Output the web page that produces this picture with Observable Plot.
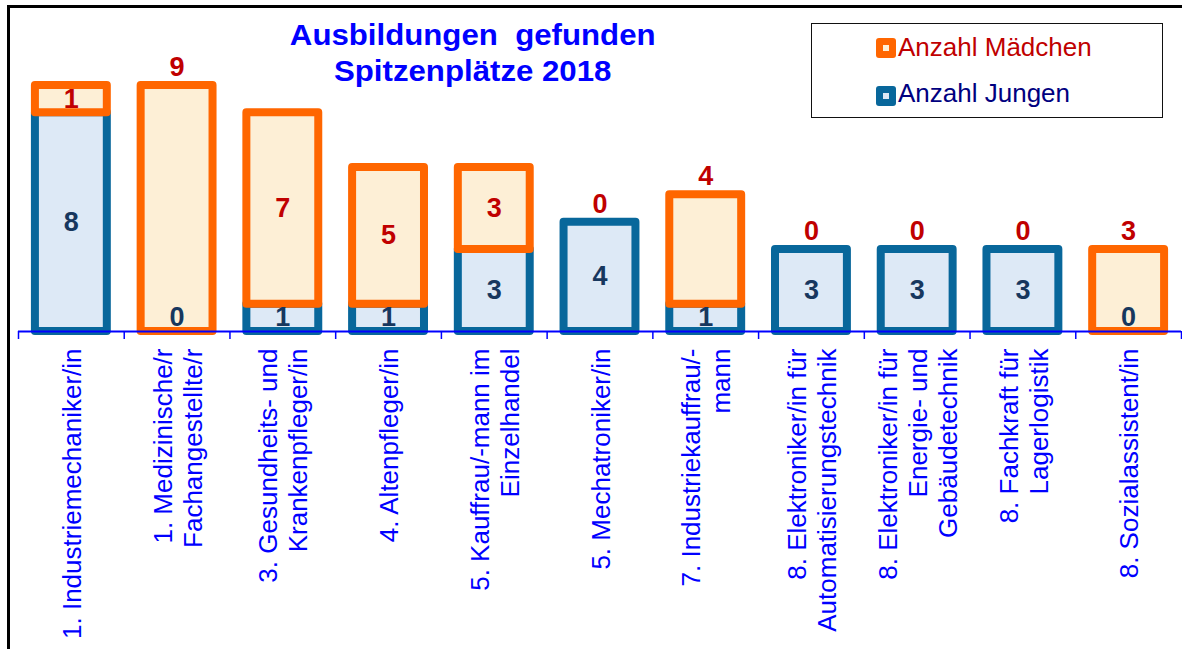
<!DOCTYPE html>
<html><head><meta charset="utf-8">
<script src="https://cdn.jsdelivr.net/npm/d3@7"></script>
<script src="https://cdn.jsdelivr.net/npm/@observablehq/plot@0.6"></script>
<style>
html,body{margin:0;padding:0;background:#fff;overflow:hidden;width:1182px;height:649px;}
#wrap{position:relative;width:1182px;height:649px;font-family:"Liberation Sans",Arial,sans-serif;overflow:hidden;}
#frame{position:absolute;left:7px;top:5px;width:1300px;height:800px;border:3px solid #000;}
#chart{position:absolute;left:0;top:0;}
#title{position:absolute;left:232px;width:500px;top:17px;text-align:center;color:#0000ff;font-weight:bold;font-size:30px;line-height:36px;white-space:pre;transform:scaleX(1.04);transform-origin:482px 0;}
#legend{position:absolute;left:811px;top:23px;width:350px;height:93px;border:1.5px solid #111;background:#fff;}
.sw{position:absolute;left:876px;width:20px;height:20px;border-radius:3px;}
.sw::after{content:"";position:absolute;left:7px;top:7px;width:6px;height:6px;}
#sw1{top:38px;background:#ff6600;}
#sw1::after{background:#fdefd6;}
#sw2{top:86px;background:#08679b;}
#sw2::after{background:#dde9f6;}
.lt{position:absolute;left:898px;font-size:26px;line-height:26px;white-space:nowrap;}
#lt1{top:34px;color:#c00000;}
#lt2{top:80px;color:#000080;}
</style></head>
<body>
<div id="wrap">
  <div id="frame"></div>
  <div id="chart"></div>
  <div id="title">Ausbildungen  gefunden
Spitzenplätze 2018</div>
  <div id="legend"></div>
  <div class="sw" id="sw1"></div><div class="lt" id="lt1">Anzahl Mädchen</div>
  <div class="sw" id="sw2"></div><div class="lt" id="lt2">Anzahl Jungen</div>
</div>
<script>
const categories = [
  "1. Industriemechaniker/in",
  "1. Medizinische/r\nFachangestellte/r",
  "3. Gesundheits- und\nKrankenpfleger/in",
  "4. Altenpfleger/in",
  "5. Kauffrau/-mann im\nEinzelhandel",
  "5. Mechatroniker/in",
  "7. Industriekauffrau/-\nmann",
  "8. Elektroniker/in für\nAutomatisierungstechnik",
  "8. Elektroniker/in für\nEnergie- und\nGebäudetechnik",
  "8. Fachkraft für\nLagerlogistik",
  "8. Sozialassistent/in"
];
const jungen   = [8, 0, 1, 1, 3, 4, 1, 3, 3, 3, 0];
const maedchen = [1, 9, 7, 5, 3, 0, 4, 0, 0, 0, 3];
const maedchenLabelAbove = [false, true, false, false, false, true, true, true, true, true, true];

const rows = categories.map((c, i) => ({cat: c, j: jungen[i], m: maedchen[i], above: maedchenLabelAbove[i]}));

const W = 1182, H = 649, mL = 18, mR = 1;
const step = (W - mL - mR) / categories.length;
const numFont = {fontSize: 27, fontWeight: "bold"};
const LABEL_FS = 26, LABEL_LH = 30;

const plot = Plot.plot({
  width: W, height: H,
  marginLeft: mL, marginRight: mR, marginTop: 85, marginBottom: 318,
  style: {background: "transparent", overflow: "visible", fontFamily: "'Liberation Sans', Arial, sans-serif"},
  x: {domain: categories, paddingInner: 0.32, paddingOuter: 0.16, round: false, axis: null},
  y: {domain: [0, 9], axis: null},
  marks: [
    Plot.barY(rows.filter(d => d.j > 0), {x: "cat", y1: 0, y2: "j", fill: "#dde9f6", stroke: "#08679b", strokeWidth: 8, strokeLinejoin: "round"}),
    Plot.barY(rows.filter(d => d.m > 0), {x: "cat", y1: "j", y2: d => d.j + d.m, fill: "#fdefd6", stroke: "#ff6600", strokeWidth: 8, strokeLinejoin: "round"}),
    Plot.ruleY([0], {stroke: "#0000ff", strokeWidth: 2}),
    Plot.ruleX(categories, {x: d => d, y1: 0, y2: 0, dx: -step / 2, insetBottom: -8, stroke: "#0000ff", strokeWidth: 1.5}),
    Plot.ruleX(categories.slice(-1), {x: d => d, y1: 0, y2: 0, dx: step / 2, insetBottom: -8, stroke: "#0000ff", strokeWidth: 1.5}),
    Plot.text(rows, {x: "cat", y: d => d.j > 0 ? d.j / 2 : 0.5, text: d => String(d.j), fill: "#17375e", ...numFont}),
    Plot.text(rows.filter(d => !d.above), {x: "cat", y: d => d.j + d.m / 2, text: d => String(d.m), fill: "#c00000", ...numFont}),
    Plot.text(rows.filter(d => d.above), {x: "cat", y: d => d.j + d.m, dy: -18, text: d => String(d.m), fill: "#c00000", ...numFont}),
    Plot.text(categories, {x: d => d, text: d => d, frameAnchor: "bottom", lineAnchor: "middle", rotate: -90, textAnchor: "end", dy: 17, fontSize: LABEL_FS, fill: "#0000ff", lineHeight: LABEL_LH / LABEL_FS, ariaLabel: "xlabels"})
  ]
});
document.getElementById("chart").append(plot);

// center-align the lines of each rotated category label, keeping the block's top just below the axis
d3.select(plot).selectAll('g[aria-label="xlabels"] text').each(function() {
  const tspans = Array.from(this.querySelectorAll("tspan"));
  let max = 0;
  if (tspans.length) tspans.forEach(t => { max = Math.max(max, t.getComputedTextLength()); });
  else max = this.getComputedTextLength();
  this.setAttribute("text-anchor", "middle");
  this.setAttribute("transform", (this.getAttribute("transform") || "") + ` translate(${-max / 2},0)`);
});
</script>
</body></html>
